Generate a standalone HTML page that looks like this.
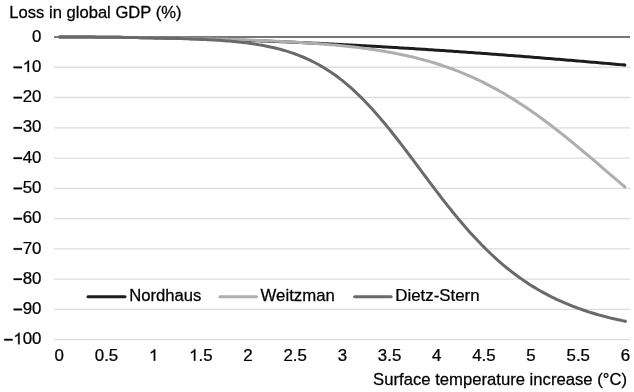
<!DOCTYPE html>
<html><head><meta charset="utf-8"><style>
html,body{margin:0;padding:0;background:#fff;}
svg{display:block;filter:grayscale(1);font-family:"Liberation Sans",sans-serif;font-size:16px;}
text{fill:#000;stroke:#000;stroke-width:0.25px;}
.one{fill:#000;stroke:#000;stroke-width:32.0px;}
</style></head><body>
<svg width="634" height="392" viewBox="0 0 634 392">
<rect width="634" height="392" fill="#fff"/>
<g transform="translate(9.30,17.80) scale(1.038,1)"><text>Loss in global GDP (%)</text></g>

<line x1="54" y1="67.26" x2="630" y2="67.26" stroke="#dddddd" stroke-width="1.3"/>
<line x1="54" y1="97.52" x2="630" y2="97.52" stroke="#dddddd" stroke-width="1.3"/>
<line x1="54" y1="127.78" x2="630" y2="127.78" stroke="#dddddd" stroke-width="1.3"/>
<line x1="54" y1="158.04" x2="630" y2="158.04" stroke="#dddddd" stroke-width="1.3"/>
<line x1="54" y1="188.30" x2="630" y2="188.30" stroke="#dddddd" stroke-width="1.3"/>
<line x1="54" y1="218.56" x2="630" y2="218.56" stroke="#dddddd" stroke-width="1.3"/>
<line x1="54" y1="248.82" x2="630" y2="248.82" stroke="#dddddd" stroke-width="1.3"/>
<line x1="54" y1="279.08" x2="630" y2="279.08" stroke="#dddddd" stroke-width="1.3"/>
<line x1="54" y1="309.34" x2="630" y2="309.34" stroke="#dddddd" stroke-width="1.3"/>
<line x1="54" y1="339.60" x2="630" y2="339.60" stroke="#dddddd" stroke-width="1.3"/>

<line x1="54" y1="37.0" x2="630" y2="37.0" stroke="#777777" stroke-width="1.8"/>
<g transform="translate(41.50,41.70) scale(1.055,1)"><text text-anchor="end">0</text></g>
<g transform="translate(41.50,71.96) scale(1.055,1)"><text text-anchor="end"><tspan style="fill:none;stroke:none">−</tspan> 0</text><path transform="translate(-27.141,0) scale(0.007812,-0.007812)" d="M90 480V690H1110V480Z" class="one"/><path transform="translate(-17.797,0) scale(0.007812,-0.007812)" d="M763 0L583 0L583 1147C540 1106 483 1064 413 1023C342 982 279 951 223 930L223 1104C324 1151 412 1209 487 1276C562 1343 615 1409 646 1472L763 1472Z" class="one"/></g>
<g transform="translate(41.50,102.22) scale(1.055,1)"><text text-anchor="end"><tspan style="fill:none;stroke:none">−</tspan>20</text><path transform="translate(-27.141,0) scale(0.007812,-0.007812)" d="M90 480V690H1110V480Z" class="one"/></g>
<g transform="translate(41.50,132.48) scale(1.055,1)"><text text-anchor="end"><tspan style="fill:none;stroke:none">−</tspan>30</text><path transform="translate(-27.141,0) scale(0.007812,-0.007812)" d="M90 480V690H1110V480Z" class="one"/></g>
<g transform="translate(41.50,162.74) scale(1.055,1)"><text text-anchor="end"><tspan style="fill:none;stroke:none">−</tspan>40</text><path transform="translate(-27.141,0) scale(0.007812,-0.007812)" d="M90 480V690H1110V480Z" class="one"/></g>
<g transform="translate(41.50,193.00) scale(1.055,1)"><text text-anchor="end"><tspan style="fill:none;stroke:none">−</tspan>50</text><path transform="translate(-27.141,0) scale(0.007812,-0.007812)" d="M90 480V690H1110V480Z" class="one"/></g>
<g transform="translate(41.50,223.26) scale(1.055,1)"><text text-anchor="end"><tspan style="fill:none;stroke:none">−</tspan>60</text><path transform="translate(-27.141,0) scale(0.007812,-0.007812)" d="M90 480V690H1110V480Z" class="one"/></g>
<g transform="translate(41.50,253.52) scale(1.055,1)"><text text-anchor="end"><tspan style="fill:none;stroke:none">−</tspan>70</text><path transform="translate(-27.141,0) scale(0.007812,-0.007812)" d="M90 480V690H1110V480Z" class="one"/></g>
<g transform="translate(41.50,283.78) scale(1.055,1)"><text text-anchor="end"><tspan style="fill:none;stroke:none">−</tspan>80</text><path transform="translate(-27.141,0) scale(0.007812,-0.007812)" d="M90 480V690H1110V480Z" class="one"/></g>
<g transform="translate(41.50,314.04) scale(1.055,1)"><text text-anchor="end"><tspan style="fill:none;stroke:none">−</tspan>90</text><path transform="translate(-27.141,0) scale(0.007812,-0.007812)" d="M90 480V690H1110V480Z" class="one"/></g>
<g transform="translate(41.50,344.30) scale(1.055,1)"><text text-anchor="end"><tspan style="fill:none;stroke:none">−</tspan> 00</text><path transform="translate(-36.039,0) scale(0.007812,-0.007812)" d="M90 480V690H1110V480Z" class="one"/><path transform="translate(-26.695,0) scale(0.007812,-0.007812)" d="M763 0L583 0L583 1147C540 1106 483 1064 413 1023C342 982 279 951 223 930L223 1104C324 1151 412 1209 487 1276C562 1343 615 1409 646 1472L763 1472Z" class="one"/></g>

<g transform="translate(59.30,360.70) scale(1.055,1)"><text text-anchor="middle">0</text></g>
<g transform="translate(106.47,360.70) scale(1.055,1)"><text text-anchor="middle">0.5</text></g>
<g transform="translate(153.65,360.70) scale(1.055,1)"><text text-anchor="middle"> </text><path transform="translate(-4.449,0) scale(0.007812,-0.007812)" d="M763 0L583 0L583 1147C540 1106 483 1064 413 1023C342 982 279 951 223 930L223 1104C324 1151 412 1209 487 1276C562 1343 615 1409 646 1472L763 1472Z" class="one"/></g>
<g transform="translate(200.82,360.70) scale(1.055,1)"><text text-anchor="middle"> .5</text><path transform="translate(-11.121,0) scale(0.007812,-0.007812)" d="M763 0L583 0L583 1147C540 1106 483 1064 413 1023C342 982 279 951 223 930L223 1104C324 1151 412 1209 487 1276C562 1343 615 1409 646 1472L763 1472Z" class="one"/></g>
<g transform="translate(248.00,360.70) scale(1.055,1)"><text text-anchor="middle">2</text></g>
<g transform="translate(295.18,360.70) scale(1.055,1)"><text text-anchor="middle">2.5</text></g>
<g transform="translate(342.35,360.70) scale(1.055,1)"><text text-anchor="middle">3</text></g>
<g transform="translate(389.53,360.70) scale(1.055,1)"><text text-anchor="middle">3.5</text></g>
<g transform="translate(436.70,360.70) scale(1.055,1)"><text text-anchor="middle">4</text></g>
<g transform="translate(483.88,360.70) scale(1.055,1)"><text text-anchor="middle">4.5</text></g>
<g transform="translate(531.05,360.70) scale(1.055,1)"><text text-anchor="middle">5</text></g>
<g transform="translate(578.23,360.70) scale(1.055,1)"><text text-anchor="middle">5.5</text></g>
<g transform="translate(625.40,360.70) scale(1.055,1)"><text text-anchor="middle">6</text></g>

<g transform="translate(627.00,385.20) scale(1.042,1)"><text text-anchor="end">Surface temperature increase (°C)</text></g>

<polyline points="58.80,37.00 61.16,37.00 63.52,37.00 65.88,37.00 68.23,37.01 70.59,37.01 72.95,37.02 75.31,37.03 77.67,37.03 80.03,37.04 82.39,37.05 84.75,37.06 87.11,37.08 89.46,37.09 91.82,37.11 94.18,37.12 96.54,37.14 98.90,37.16 101.26,37.17 103.62,37.19 105.97,37.21 108.33,37.24 110.69,37.26 113.05,37.28 115.41,37.31 117.77,37.34 120.13,37.36 122.49,37.39 124.84,37.42 127.20,37.45 129.56,37.48 131.92,37.52 134.28,37.55 136.64,37.58 139.00,37.62 141.36,37.66 143.72,37.69 146.07,37.73 148.43,37.77 150.79,37.81 153.15,37.86 155.51,37.90 157.87,37.94 160.23,37.99 162.59,38.04 164.94,38.08 167.30,38.13 169.66,38.18 172.02,38.23 174.38,38.28 176.74,38.34 179.10,38.39 181.46,38.44 183.81,38.50 186.17,38.56 188.53,38.62 190.89,38.67 193.25,38.73 195.61,38.80 197.97,38.86 200.32,38.92 202.68,38.98 205.04,39.05 207.40,39.12 209.76,39.18 212.12,39.25 214.48,39.32 216.84,39.39 219.19,39.46 221.55,39.53 223.91,39.61 226.27,39.68 228.63,39.76 230.99,39.83 233.35,39.91 235.71,39.99 238.06,40.07 240.42,40.15 242.78,40.23 245.14,40.31 247.50,40.40 249.86,40.48 252.22,40.57 254.58,40.65 256.94,40.74 259.29,40.83 261.65,40.92 264.01,41.01 266.37,41.10 268.73,41.19 271.09,41.29 273.45,41.38 275.81,41.48 278.16,41.57 280.52,41.67 282.88,41.77 285.24,41.87 287.60,41.97 289.96,42.07 292.32,42.17 294.68,42.28 297.03,42.38 299.39,42.48 301.75,42.59 304.11,42.70 306.47,42.81 308.83,42.91 311.19,43.02 313.55,43.14 315.90,43.25 318.26,43.36 320.62,43.47 322.98,43.59 325.34,43.70 327.70,43.82 330.06,43.94 332.42,44.06 334.77,44.18 337.13,44.30 339.49,44.42 341.85,44.54 344.21,44.66 346.57,44.79 348.93,44.91 351.29,45.04 353.64,45.16 356.00,45.29 358.36,45.42 360.72,45.55 363.08,45.68 365.44,45.81 367.80,45.94 370.15,46.07 372.51,46.21 374.87,46.34 377.23,46.48 379.59,46.61 381.95,46.75 384.31,46.89 386.67,47.03 389.03,47.17 391.38,47.31 393.74,47.45 396.10,47.59 398.46,47.74 400.82,47.88 403.18,48.03 405.54,48.17 407.90,48.32 410.25,48.47 412.61,48.62 414.97,48.77 417.33,48.92 419.69,49.07 422.05,49.22 424.41,49.37 426.76,49.52 429.12,49.68 431.48,49.83 433.84,49.99 436.20,50.15 438.56,50.30 440.92,50.46 443.28,50.62 445.63,50.78 447.99,50.94 450.35,51.10 452.71,51.27 455.07,51.43 457.43,51.59 459.79,51.76 462.15,51.92 464.50,52.09 466.86,52.26 469.22,52.43 471.58,52.59 473.94,52.76 476.30,52.93 478.66,53.11 481.02,53.28 483.38,53.45 485.73,53.62 488.09,53.80 490.45,53.97 492.81,54.15 495.17,54.32 497.53,54.50 499.89,54.68 502.25,54.86 504.60,55.04 506.96,55.21 509.32,55.40 511.68,55.58 514.04,55.76 516.40,55.94 518.76,56.12 521.12,56.31 523.47,56.49 525.83,56.68 528.19,56.87 530.55,57.05 532.91,57.24 535.27,57.43 537.63,57.62 539.99,57.81 542.34,58.00 544.70,58.19 547.06,58.38 549.42,58.57 551.78,58.76 554.14,58.96 556.50,59.15 558.86,59.35 561.21,59.54 563.57,59.74 565.93,59.94 568.29,60.13 570.65,60.33 573.01,60.53 575.37,60.73 577.73,60.93 580.08,61.13 582.44,61.33 584.80,61.53 587.16,61.74 589.52,61.94 591.88,62.14 594.24,62.35 596.60,62.55 598.95,62.76 601.31,62.96 603.67,63.17 606.03,63.38 608.39,63.59 610.75,63.79 613.11,64.00 615.47,64.21 617.82,64.42 620.18,64.63 622.54,64.85 624.90,65.06" fill="none" stroke="#1c1c1c" stroke-width="3" stroke-linejoin="round" stroke-linecap="butt"/><circle cx="624.90" cy="65.06" r="1.5" fill="#1c1c1c"/>
<polyline points="58.80,37.00 61.16,37.00 63.52,37.00 65.88,37.00 68.23,37.01 70.59,37.01 72.95,37.02 75.31,37.02 77.67,37.03 80.03,37.04 82.39,37.05 84.75,37.05 87.11,37.07 89.46,37.08 91.82,37.09 94.18,37.10 96.54,37.12 98.90,37.13 101.26,37.15 103.62,37.16 105.97,37.18 108.33,37.20 110.69,37.22 113.05,37.24 115.41,37.26 117.77,37.28 120.13,37.31 122.49,37.33 124.84,37.35 127.20,37.38 129.56,37.41 131.92,37.43 134.28,37.46 136.64,37.49 139.00,37.52 141.36,37.55 143.72,37.59 146.07,37.62 148.43,37.65 150.79,37.69 153.15,37.72 155.51,37.76 157.87,37.80 160.23,37.84 162.59,37.87 164.94,37.92 167.30,37.96 169.66,38.00 172.02,38.04 174.38,38.09 176.74,38.13 179.10,38.18 181.46,38.23 183.81,38.27 186.17,38.32 188.53,38.37 190.89,38.42 193.25,38.48 195.61,38.53 197.97,38.59 200.32,38.64 202.68,38.70 205.04,38.76 207.40,38.81 209.76,38.87 212.12,38.94 214.48,39.00 216.84,39.06 219.19,39.13 221.55,39.19 223.91,39.26 226.27,39.33 228.63,39.40 230.99,39.47 233.35,39.55 235.71,39.62 238.06,39.70 240.42,39.78 242.78,39.86 245.14,39.94 247.50,40.02 249.86,40.11 252.22,40.20 254.58,40.28 256.94,40.38 259.29,40.47 261.65,40.56 264.01,40.66 266.37,40.76 268.73,40.86 271.09,40.97 273.45,41.07 275.81,41.18 278.16,41.29 280.52,41.41 282.88,41.53 285.24,41.65 287.60,41.77 289.96,41.90 292.32,42.03 294.68,42.16 297.03,42.30 299.39,42.44 301.75,42.58 304.11,42.73 306.47,42.88 308.83,43.04 311.19,43.20 313.55,43.37 315.90,43.53 318.26,43.71 320.62,43.89 322.98,44.07 325.34,44.26 327.70,44.46 330.06,44.66 332.42,44.87 334.77,45.08 337.13,45.30 339.49,45.52 341.85,45.76 344.21,45.99 346.57,46.24 348.93,46.49 351.29,46.75 353.64,47.02 356.00,47.30 358.36,47.58 360.72,47.88 363.08,48.18 365.44,48.49 367.80,48.81 370.15,49.14 372.51,49.48 374.87,49.83 377.23,50.19 379.59,50.57 381.95,50.95 384.31,51.34 386.67,51.75 389.03,52.16 391.38,52.59 393.74,53.04 396.10,53.49 398.46,53.96 400.82,54.44 403.18,54.94 405.54,55.45 407.90,55.97 410.25,56.51 412.61,57.07 414.97,57.64 417.33,58.23 419.69,58.83 422.05,59.45 424.41,60.09 426.76,60.74 429.12,61.41 431.48,62.10 433.84,62.81 436.20,63.54 438.56,64.28 440.92,65.05 443.28,65.83 445.63,66.63 447.99,67.46 450.35,68.30 452.71,69.17 455.07,70.06 457.43,70.96 459.79,71.89 462.15,72.85 464.50,73.82 466.86,74.82 469.22,75.83 471.58,76.88 473.94,77.94 476.30,79.03 478.66,80.14 481.02,81.27 483.38,82.43 485.73,83.61 488.09,84.82 490.45,86.05 492.81,87.30 495.17,88.57 497.53,89.88 499.89,91.20 502.25,92.55 504.60,93.92 506.96,95.32 509.32,96.73 511.68,98.18 514.04,99.64 516.40,101.13 518.76,102.65 521.12,104.18 523.47,105.74 525.83,107.32 528.19,108.92 530.55,110.54 532.91,112.19 535.27,113.85 537.63,115.54 539.99,117.24 542.34,118.97 544.70,120.71 547.06,122.48 549.42,124.26 551.78,126.06 554.14,127.87 556.50,129.70 558.86,131.55 561.21,133.41 563.57,135.29 565.93,137.18 568.29,139.09 570.65,141.01 573.01,142.94 575.37,144.88 577.73,146.83 580.08,148.79 582.44,150.76 584.80,152.74 587.16,154.72 589.52,156.72 591.88,158.71 594.24,160.72 596.60,162.73 598.95,164.74 601.31,166.75 603.67,168.77 606.03,170.78 608.39,172.80 610.75,174.82 613.11,176.84 615.47,178.85 617.82,180.86 620.18,182.87 622.54,184.88 624.90,186.88" fill="none" stroke="#aeaeae" stroke-width="3" stroke-linejoin="round" stroke-linecap="butt"/><circle cx="624.90" cy="186.88" r="1.5" fill="#aeaeae"/>
<polyline points="58.80,37.00 61.16,37.00 63.53,37.00 65.89,37.00 68.25,37.01 70.62,37.01 72.98,37.02 75.35,37.03 77.71,37.03 80.07,37.04 82.44,37.05 84.80,37.06 87.17,37.08 89.53,37.09 91.89,37.10 94.26,37.12 96.62,37.14 98.98,37.15 101.35,37.17 103.71,37.19 106.07,37.21 108.44,37.24 110.80,37.26 113.17,37.28 115.53,37.31 117.89,37.34 120.26,37.36 122.62,37.39 124.98,37.42 127.35,37.45 129.71,37.48 132.08,37.52 134.44,37.55 136.80,37.59 139.17,37.63 141.53,37.66 143.90,37.70 146.26,37.75 148.62,37.79 150.99,37.83 153.35,37.88 155.71,37.93 158.08,37.98 160.44,38.03 162.81,38.08 165.17,38.14 167.53,38.19 169.90,38.25 172.26,38.32 174.62,38.38 176.99,38.45 179.35,38.52 181.72,38.59 184.08,38.67 186.44,38.75 188.81,38.83 191.17,38.92 193.53,39.01 195.90,39.10 198.26,39.21 200.62,39.31 202.99,39.42 205.35,39.54 207.72,39.66 210.08,39.79 212.44,39.92 214.81,40.06 217.17,40.21 219.53,40.37 221.90,40.54 224.26,40.71 226.63,40.90 228.99,41.09 231.35,41.30 233.72,41.52 236.08,41.75 238.44,41.99 240.81,42.25 243.17,42.52 245.54,42.80 247.90,43.10 250.26,43.42 252.63,43.76 254.99,44.11 257.36,44.48 259.72,44.88 262.08,45.29 264.45,45.73 266.81,46.19 269.17,46.68 271.54,47.19 273.90,47.73 276.26,48.30 278.63,48.89 280.99,49.52 283.36,50.18 285.72,50.87 288.08,51.60 290.45,52.36 292.81,53.16 295.18,53.99 297.54,54.87 299.90,55.79 302.27,56.75 304.63,57.75 306.99,58.80 309.36,59.90 311.72,61.04 314.09,62.23 316.45,63.47 318.81,64.76 321.18,66.10 323.54,67.50 325.90,68.95 328.27,70.46 330.63,72.02 333.00,73.64 335.36,75.31 337.72,77.05 340.09,78.84 342.45,80.69 344.81,82.60 347.17,84.57 349.53,86.60 351.89,88.68 354.24,90.83 356.60,93.04 358.96,95.30 361.32,97.62 363.68,100.00 366.04,102.43 368.40,104.92 370.75,107.46 373.11,110.06 375.47,112.70 377.83,115.40 380.19,118.14 382.55,120.92 384.91,123.75 387.27,126.62 389.63,129.53 391.98,132.47 394.34,135.45 396.70,138.46 399.06,141.50 401.42,144.57 403.78,147.65 406.14,150.76 408.50,153.88 410.85,157.02 413.21,160.17 415.57,163.33 417.93,166.49 420.29,169.66 422.65,172.82 425.01,175.99 427.37,179.14 429.72,182.29 432.08,185.42 434.44,188.55 436.80,191.65 439.16,194.73 441.52,197.80 443.88,200.83 446.24,203.85 448.59,206.83 450.95,209.79 453.31,212.71 455.67,215.59 458.03,218.45 460.39,221.26 462.75,224.04 465.11,226.78 467.46,229.48 469.82,232.13 472.18,234.74 474.54,237.31 476.90,239.84 479.26,242.32 481.62,244.75 483.98,247.14 486.33,249.49 488.69,251.78 491.05,254.03 493.41,256.24 495.77,258.40 498.13,260.51 500.49,262.58 502.85,264.60 505.20,266.57 507.56,268.50 509.92,270.38 512.28,272.22 514.64,274.02 517.00,275.77 519.36,277.48 521.72,279.15 524.07,280.78 526.43,282.36 528.79,283.91 531.15,285.41 533.51,286.88 535.87,288.31 538.23,289.70 540.59,291.05 542.94,292.37 545.30,293.65 547.66,294.90 550.02,296.12 552.38,297.30 554.74,298.45 557.10,299.57 559.46,300.65 561.81,301.71 564.17,302.74 566.53,303.74 568.89,304.71 571.25,305.65 573.61,306.57 575.97,307.46 578.33,308.33 580.68,309.17 583.04,309.99 585.40,310.79 587.76,311.56 590.12,312.31 592.48,313.04 594.84,313.75 597.20,314.44 599.55,315.11 601.91,315.76 604.27,316.39 606.63,317.01 608.99,317.61 611.35,318.18 613.71,318.75 616.07,319.30 618.42,319.83 620.78,320.34 623.14,320.85 625.50,321.33" fill="none" stroke="#6a6a6a" stroke-width="3" stroke-linejoin="round" stroke-linecap="butt"/><circle cx="625.50" cy="321.33" r="1.5" fill="#6a6a6a"/>
<line x1="88" y1="296.8" x2="125" y2="296.8" stroke="#1c1c1c" stroke-width="3" stroke-linecap="round"/>
<g transform="translate(129.30,300.80) scale(1.04,1)"><text>Nordhaus</text></g>

<line x1="220" y1="296.8" x2="256.5" y2="296.8" stroke="#aeaeae" stroke-width="3" stroke-linecap="round"/>
<g transform="translate(260.60,300.80) scale(1.048,1)"><text>Weitzman</text></g>

<line x1="354.6" y1="296.8" x2="391.2" y2="296.8" stroke="#6a6a6a" stroke-width="3" stroke-linecap="round"/>
<g transform="translate(395.20,300.80) scale(1.055,1)"><text>Dietz-Stern</text></g>

</svg>
</body></html>
